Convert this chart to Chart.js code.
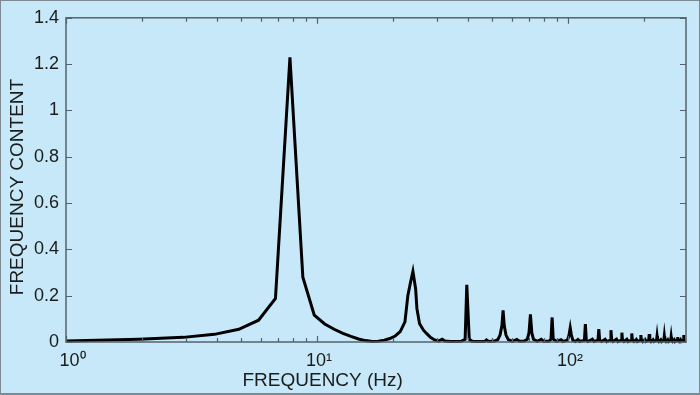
<!DOCTYPE html>
<html>
<head>
<meta charset="utf-8">
<script src="https://cdn.jsdelivr.net/npm/chart.js@4.4.1/dist/chart.umd.min.js"></script>
<style>
  html, body { margin: 0; padding: 0; background: #c6e8f8; }
  #wrap { width: 700px; height: 395px; }
  canvas { display: block; }
</style>
</head>
<body>
<div id="wrap"><canvas id="c" width="700" height="395"></canvas></div>
<script>
// ---- data ----
const frequencies = [
  1, 1.95, 2.93, 3.9, 4.88, 5.85, 6.83, 7.8, 8.78, 9.75,
  10.73, 11.7, 12.68, 13.65, 14.63, 15.6, 16.58, 17.55, 18.53, 19.5,
  20.48, 21.45, 22.4, 23.0, 23.6, 24.1, 24.7, 25.0, 25.6, 26.5,
  27.3, 28.3, 29.4, 30.5, 31.5, 32.3, 34, 36, 37.5, 38.9,
  39.5, 40.4, 41.5, 44, 46.5, 47.3, 48.2, 51, 52.5, 53.6,
  54.5, 55.1, 55.7, 56.6, 57.8, 60, 62.5, 64, 67, 68.8,
  69.9, 70.8, 71.7, 72.8, 75.5, 78.2, 80, 84, 85.5, 86.4,
  87.3, 90, 93.8, 95.5, 99.5, 100.9, 102, 103.1, 104.5, 107,
  109.5, 111.5, 116.2, 117.2, 118.2, 120, 125, 127, 131.6, 132.6,
  133.6, 136, 140.5, 142.5, 147.2, 148.2, 149.2, 151, 156, 158,
  162.8, 163.8, 164.8, 167, 171.5, 173.5, 178.4, 179.4, 180.4, 183,
  187, 189, 194, 195, 196, 198.5, 202.5, 204.5, 209.6, 210.6,
  211.6, 214, 218, 220, 225.2, 226.2, 227.2, 230, 234, 236,
  240.8, 241.8, 242.8, 245.5, 249.5, 251.5, 256.4, 257.4, 258.4, 261,
  265, 267, 272, 273, 274, 277, 280.5, 282.5, 287.6, 288.6,
  289.6, 292, 295
];
const content = [
  0.004, 0.012, 0.02, 0.033, 0.055, 0.094, 0.188, 1.229, 0.28, 0.116,
  0.078, 0.055, 0.037, 0.024, 0.013, 0.006, 0.002, 0.003, 0.008, 0.015,
  0.026, 0.045, 0.087, 0.2, 0.26, 0.305, 0.23, 0.144, 0.08, 0.052,
  0.037, 0.02, 0.009, 0.004, 0.012, 0.004, 0.002, 0.002, 0.003, 0.012,
  0.247, 0.012, 0.003, 0.002, 0.002, 0.009, 0.002, 0.004, 0.01, 0.03,
  0.07, 0.137, 0.07, 0.03, 0.01, 0.003, 0.011, 0.003, 0.004, 0.012,
  0.04, 0.119, 0.04, 0.012, 0.003, 0.012, 0.003, 0.003, 0.012, 0.106,
  0.012, 0.003, 0.01, 0.002, 0.008, 0.03, 0.061, 0.03, 0.008, 0.002,
  0.011, 0.002, 0.008, 0.077, 0.008, 0.002, 0.012, 0.002, 0.008, 0.056,
  0.008, 0.002, 0.012, 0.002, 0.008, 0.051, 0.008, 0.002, 0.012, 0.002,
  0.008, 0.04, 0.008, 0.002, 0.012, 0.002, 0.008, 0.037, 0.008, 0.002,
  0.011, 0.002, 0.008, 0.03, 0.008, 0.002, 0.011, 0.002, 0.008, 0.034,
  0.008, 0.002, 0.01, 0.002, 0.008, 0.026, 0.008, 0.002, 0.01, 0.002,
  0.008, 0.026, 0.008, 0.002, 0.01, 0.002, 0.008, 0.023, 0.008, 0.002,
  0.01, 0.002, 0.008, 0.022, 0.008, 0.002, 0.01, 0.002, 0.008, 0.03,
  0.008, 0.003, 0.004
];
const xMajorTicks = [1, 10, 100];
const xMajorLabels = ['\u200210\u2070', '10\u00B9', '10\u00B2'];
const xMinorTicks = [2, 3, 4, 5, 6, 7, 8, 9, 20, 30, 40, 50, 60, 70, 80, 90, 200];
const yTicks = [0, 0.2, 0.4, 0.6, 0.8, 1, 1.2, 1.4];
const yTickLabels = ['0', '0.2', '0.4', '0.6', '0.8', '1', '1.2', '1.4'];
const xTitle = 'FREQUENCY (Hz)';
const yTitle = 'FREQUENCY CONTENT';

// ---- styles ----
const BG = '#c6e8f8';
const AXIS = '#56626b';
const TEXT = '#1c1c1c';
const FONT = '"Liberation Sans", Arial, Helvetica, sans-serif';

const points = frequencies.map((f, i) => ({ x: f, y: content[i] }));

const framePlugin = {
  id: 'frame',
  beforeDraw(chart) {
    const ctx = chart.ctx;
    ctx.save();
    ctx.fillStyle = BG;
    ctx.fillRect(0, 0, chart.width, chart.height);
    ctx.restore();
  },
  afterDraw(chart) {
    const ctx = chart.ctx;
    const a = chart.chartArea;
    const xs = chart.scales.x, ys = chart.scales.y;
    ctx.save();
    ctx.strokeStyle = AXIS;
    ctx.lineWidth = 1.5;
    ctx.strokeRect(a.left, a.top, a.right - a.left, a.bottom - a.top);
    ctx.lineWidth = 1.2;
    ctx.beginPath();
    const xt = xMajorTicks.map(v => [v, 6]).concat(xMinorTicks.map(v => [v, 4]));
    xt.forEach(([v, len]) => {
      const px = Math.round(xs.getPixelForValue(v)) + 0.5;
      ctx.moveTo(px, a.bottom); ctx.lineTo(px, a.bottom - len);
      ctx.moveTo(px, a.top); ctx.lineTo(px, a.top + len);
    });
    yTicks.forEach(v => {
      const py = Math.round(ys.getPixelForValue(v)) + 0.5;
      ctx.moveTo(a.left, py); ctx.lineTo(a.left + 6, py);
      ctx.moveTo(a.right, py); ctx.lineTo(a.right - 6, py);
    });
    ctx.stroke();
    // axis titles
    ctx.fillStyle = TEXT;
    ctx.font = '19px ' + FONT;
    ctx.textAlign = 'center';
    ctx.textBaseline = 'middle';
    ctx.fillText(xTitle, a.left + (a.right - a.left) * 0.414, 381);
    ctx.translate(18, a.top + (a.bottom - a.top) * 0.522);
    ctx.rotate(-Math.PI / 2);
    ctx.fillText(yTitle, 0, 0);
    ctx.restore();
    // outer border
    ctx.save();
    ctx.strokeStyle = '#7d8a92';
    ctx.lineWidth = 1;
    ctx.strokeRect(0.5, 0.5, chart.width - 1, chart.height - 1);
    ctx.lineWidth = 2;
    ctx.beginPath(); ctx.moveTo(0, chart.height - 1); ctx.lineTo(chart.width, chart.height - 1); ctx.stroke();
    ctx.restore();
  }
};

new Chart(document.getElementById('c'), {
  type: 'line',
  data: {
    datasets: [{
      data: points,
      borderColor: '#000000',
      borderWidth: 3,
      pointRadius: 0,
      tension: 0,
      fill: false,
      clip: 4
    }]
  },
  options: {
    responsive: false,
    animation: false,
    devicePixelRatio: 1,
    parsing: true,
    layout: { padding: { top: 15, right: 14, left: 0, bottom: 0 } },
    plugins: { legend: { display: false }, tooltip: { enabled: false } },
    scales: {
      x: {
        type: 'logarithmic',
        min: 1,
        max: 295,
        grid: { display: false, drawTicks: false },
        border: { display: false },
        afterBuildTicks: s => { s.ticks = xMajorTicks.map(v => ({ value: v, major: true })); },
        afterFit: s => { s.height = 53; },
        ticks: {
          autoSkip: false,
          maxRotation: 0,
          padding: 8,
          labelOffset: 2,
          color: TEXT,
          font: { family: FONT, size: 18 },
          callback: v => { const i = xMajorTicks.indexOf(v); return i >= 0 ? xMajorLabels[i] : ''; }
        }
      },
      y: {
        type: 'linear',
        min: 0,
        max: 1.4,
        grid: { display: false, drawTicks: false },
        border: { display: false },
        afterBuildTicks: s => { s.ticks = yTicks.map(v => ({ value: v })); },
        afterFit: s => { s.width = 66; },
        ticks: {
          autoSkip: false,
          padding: 7,
          color: TEXT,
          font: { family: FONT, size: 18 },
          callback: v => { const i = yTicks.indexOf(v); return i >= 0 ? yTickLabels[i] : ''; }
        }
      }
    }
  },
  plugins: [framePlugin]
});
</script>
</body>
</html>
